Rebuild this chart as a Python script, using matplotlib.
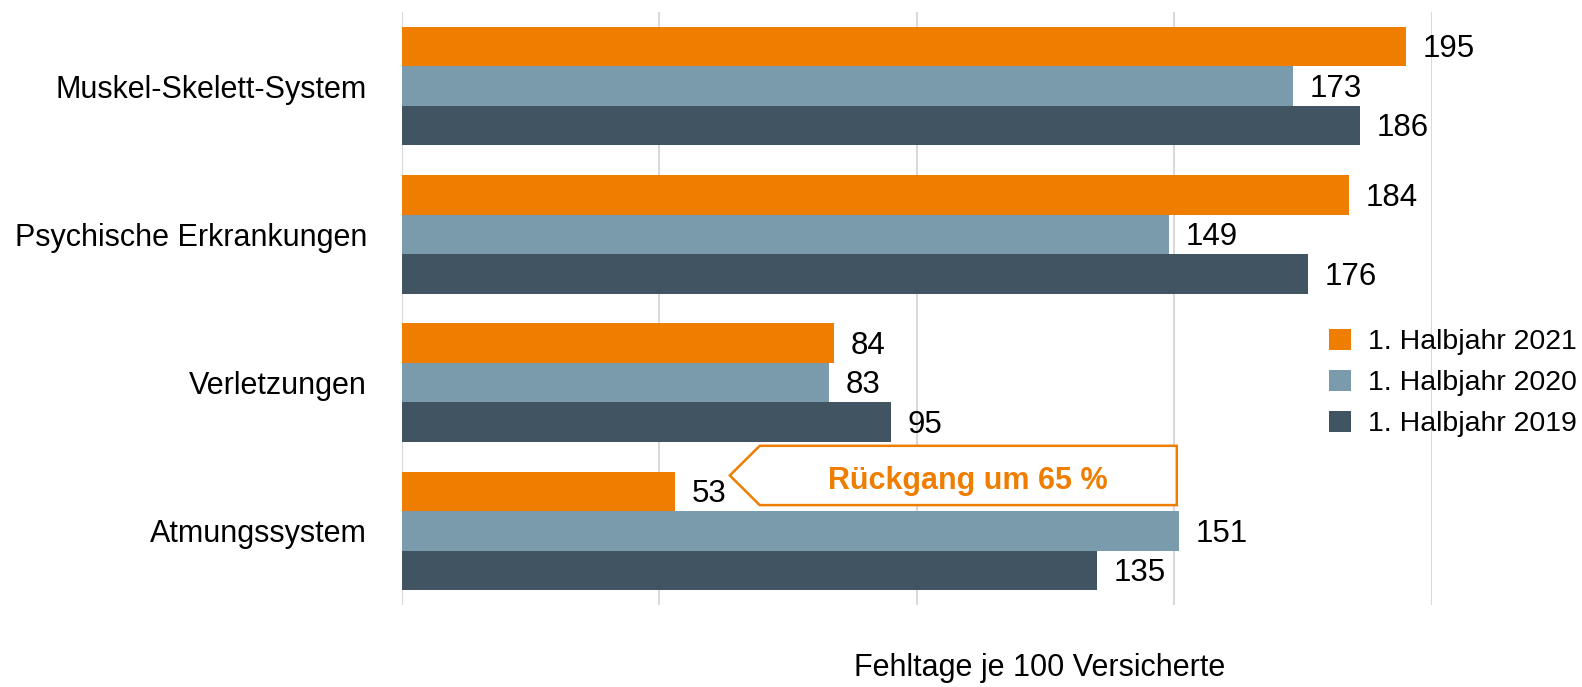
import numpy as np
import matplotlib
matplotlib.use('Agg')
import matplotlib.pyplot as plt
from matplotlib import font_manager
from matplotlib.patches import Polygon, Patch

names = {f.name for f in font_manager.fontManager.ttflist}
if 'Liberation Sans Narrow' in names:
    plt.rcParams['font.family'] = ['Liberation Sans Narrow', 'DejaVu Sans']
else:
    plt.rcParams['font.family'] = ['Liberation Sans', 'DejaVu Sans']

categories = ['Muskel-Skelett-System', 'Psychische Erkrankungen', 'Verletzungen', 'Atmungssystem']
series_names = ['1. Halbjahr 2021', '1. Halbjahr 2020', '1. Halbjahr 2019']
h2021 = [195, 184, 84, 53]
h2020 = [173, 149, 83, 151]
h2019 = [186, 176, 95, 135]
colors = ['#EF7D00', '#7A9BAB', '#415462']
note = 'Rückgang um 65 %'

fig = plt.figure(figsize=(15.82, 6.87), dpi=100)
ax = fig.add_axes([0.254, 0.1194, 0.651, 0.8631])

y = np.arange(len(categories))
bh = 0.8 / 3
for i, vals in enumerate([h2021, h2020, h2019]):
    pos = y - bh + i * bh
    bars = ax.barh(pos, vals, height=bh, color=colors[i], zorder=2)
    for b, v in zip(bars, vals):
        ax.annotate(str(v), (v, b.get_y() + bh / 2), xytext=(12, -2),
                    textcoords='offset points', va='center', ha='left', fontsize=22.5)

ax.set_xlim(0, 200)
ax.set_ylim(3.5, -0.5)
ax.set_xticks([0, 50, 100, 150, 200])
ax.set_xticklabels([])
ax.grid(axis='x', color='#D9D9D9', linewidth=1.5, zorder=0)
ax.set_yticks(y)
ax.set_yticklabels(categories, fontsize=22)
ax.tick_params(axis='y', length=0, pad=25)
ax.tick_params(axis='x', length=0)
for s in ax.spines.values():
    s.set_visible(False)

# arrow-shaped callout pointing at the 2021 Atmungssystem value
tip_x = h2021[3] + 10.7
yc = 3 - bh - 0.107
poly = Polygon([[tip_x, yc], [tip_x + 5.8, yc - 0.2], [150.5, yc - 0.2],
                [150.5, yc + 0.2], [tip_x + 5.8, yc + 0.2]], closed=True,
               facecolor='white', edgecolor=colors[0], linewidth=1.8, zorder=3)
ax.add_patch(poly)
ax.text((tip_x + 5.8 + 150.5) / 2, yc + 0.04, note, color=colors[0], fontsize=22,
        fontweight='bold', ha='center', va='center', zorder=4)

handles = [Patch(facecolor=c) for c in colors]
fig.legend(handles, series_names, loc='center right', bbox_to_anchor=(0.997, 0.4425),
           frameon=False, fontsize=20.5, handlelength=0.8, handleheight=0.8,
           handletextpad=0.6, labelspacing=0.5, borderaxespad=0, borderpad=0)

fig.text(0.657, 0.028, 'Fehltage je 100 Versicherte', ha='center', va='center', fontsize=22)

fig.savefig('out.png', dpi=100)
